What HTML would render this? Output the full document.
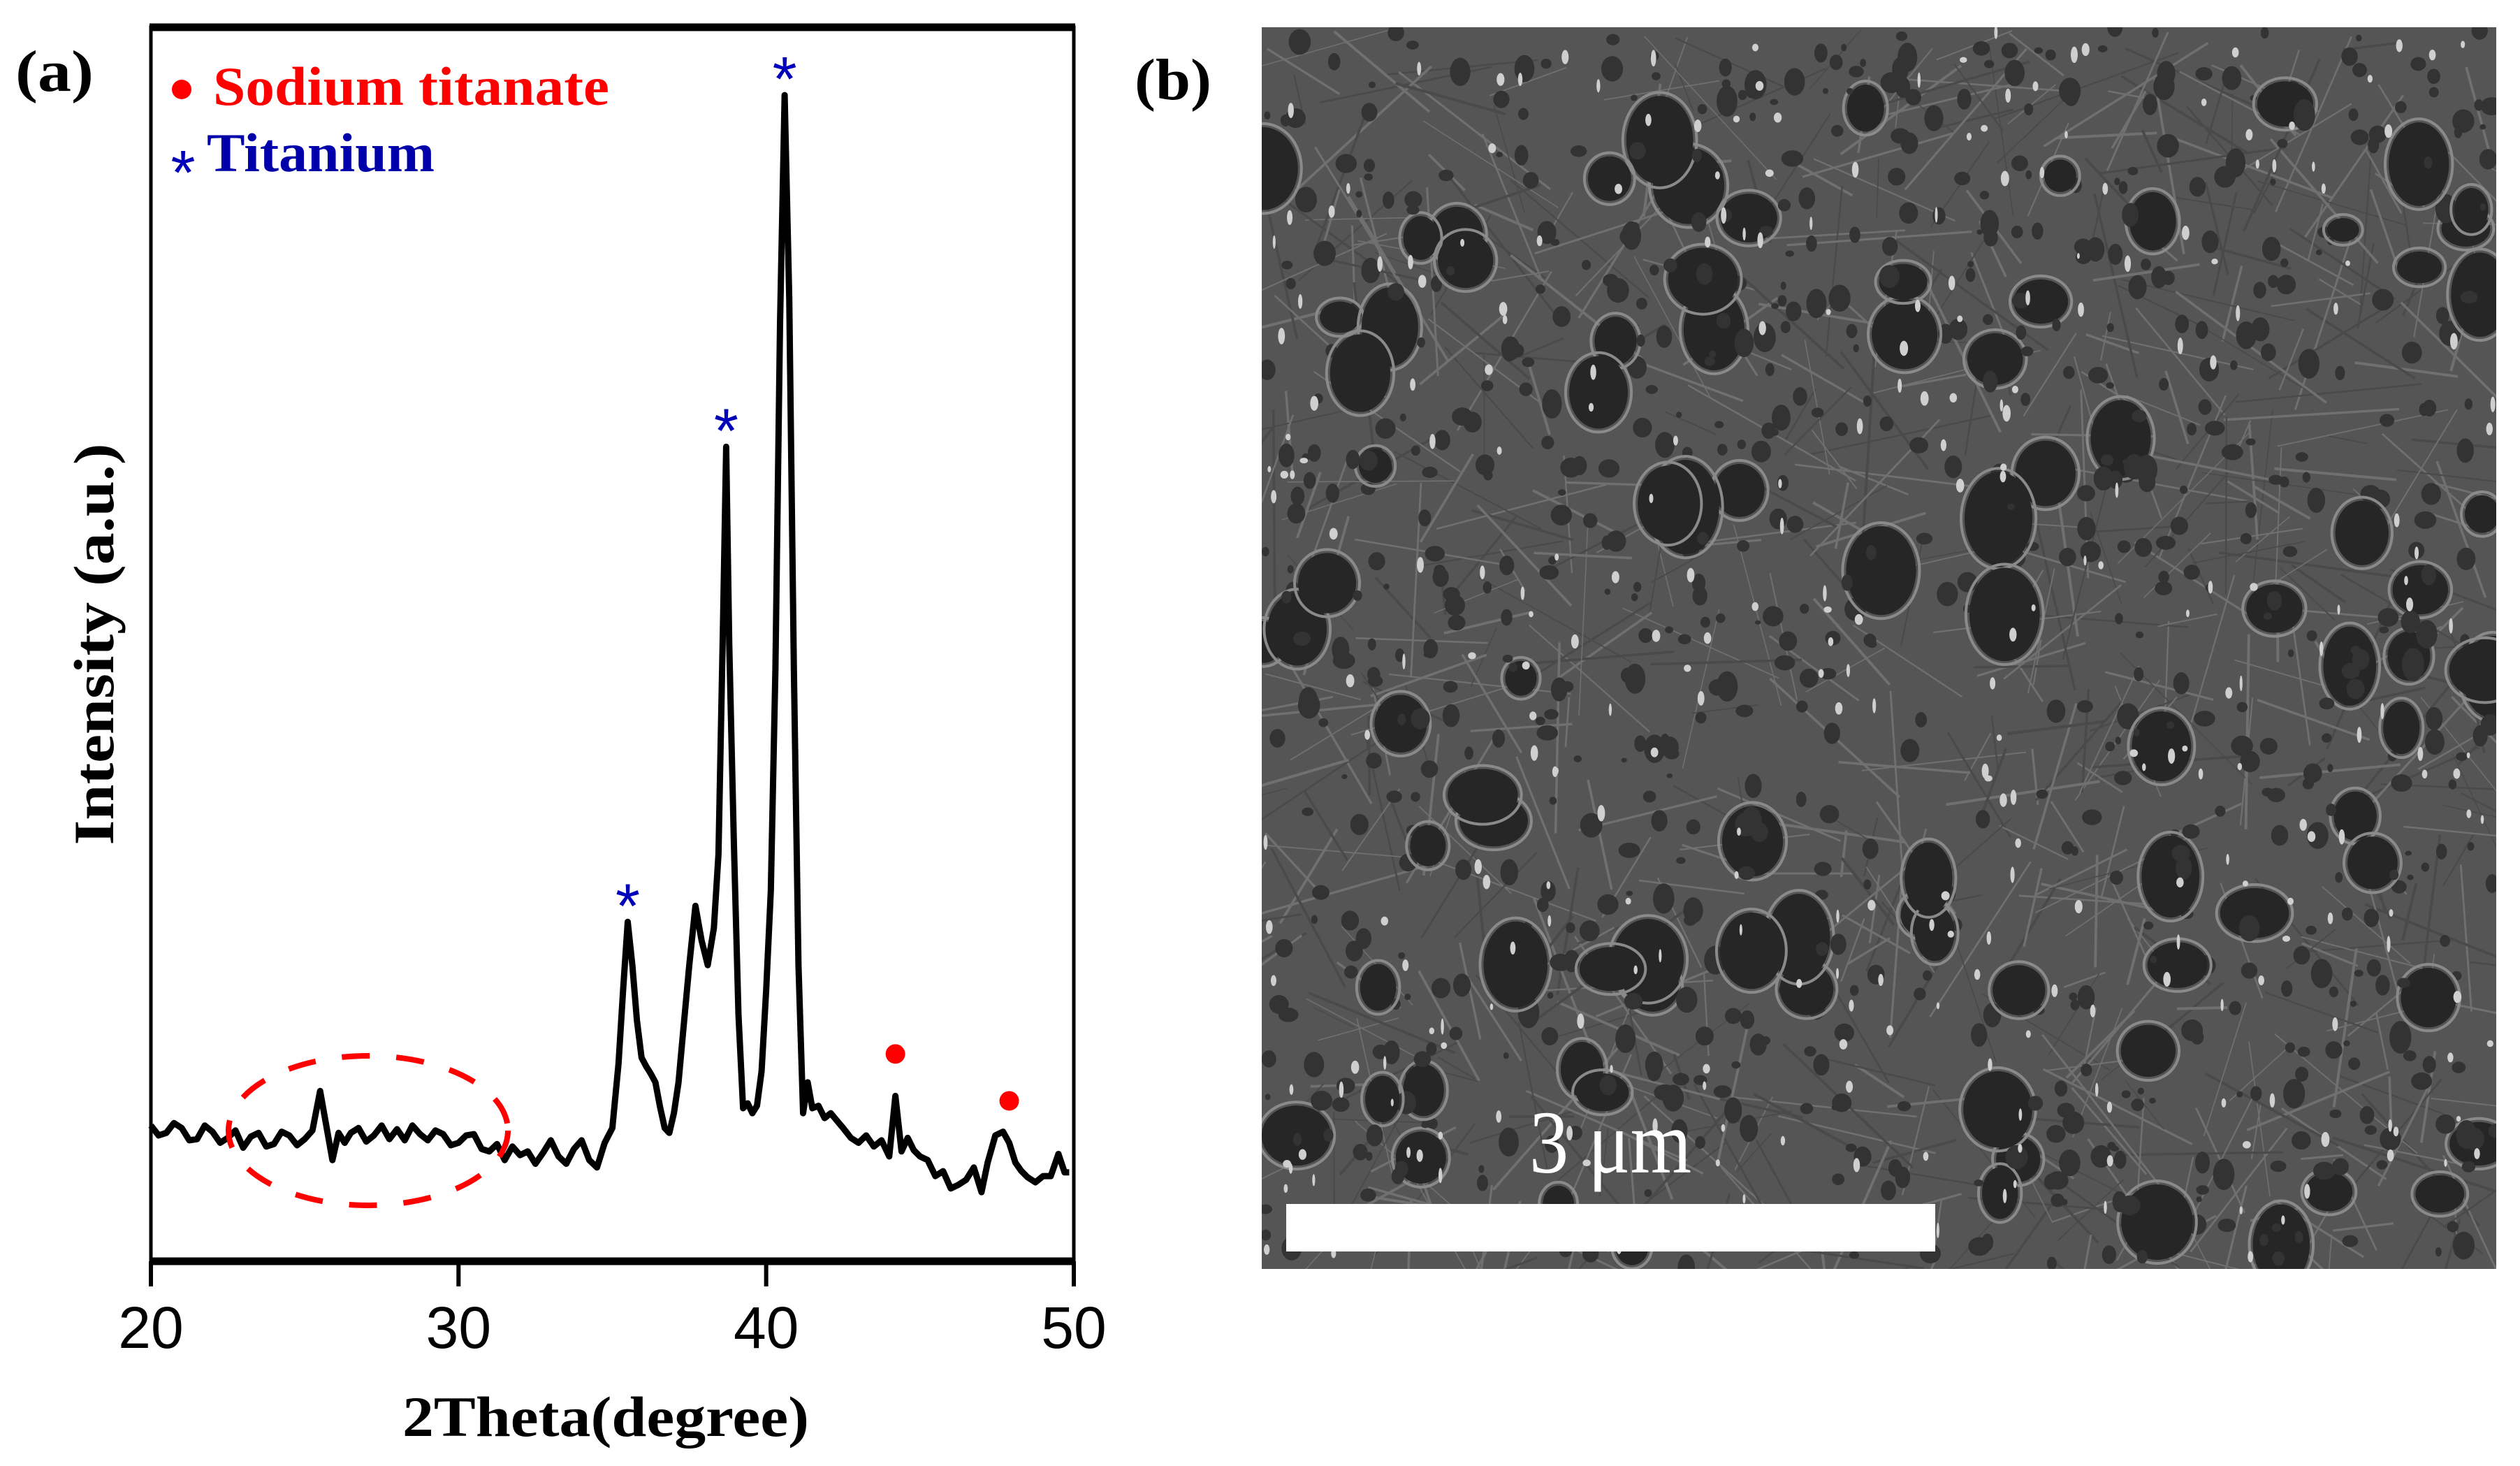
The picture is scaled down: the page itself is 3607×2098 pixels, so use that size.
<!DOCTYPE html>
<html><head><meta charset="utf-8"><style>
html,body{margin:0;padding:0;background:#fff;}
svg{display:block;}
</style></head><body>
<svg id="fig" width="3607" height="2098" viewBox="0 0 3607 2098" xmlns="http://www.w3.org/2000/svg">
<defs><clipPath id="semclip"><rect x="1806" y="39" width="1767" height="1777"/></clipPath></defs>
<rect x="0" y="0" width="3607" height="2098" fill="#fff"/>
<g id="panelA"></g>
<g id="panelB"></g>
</svg>
<script>
// ---- XRD data (2theta, intensity in arbitrary 0-100 units) ----
const twoTheta = [20,20.25,20.5,20.75,21,21.25,21.5,21.75,22,22.25,22.5,22.75,23,23.25,23.5,23.75,24,24.25,24.5,24.75,25,25.25,25.5,25.7,25.9,26.1,26.3,26.5,26.75,27,27.25,27.5,27.75,28,28.25,28.5,28.75,29,29.25,29.5,29.75,30,30.25,30.5,30.75,31,31.25,31.5,31.75,32,32.25,32.5,32.75,33,33.25,33.5,33.75,34,34.25,34.5,34.75,35,35.2,35.35,35.5,35.65,35.8,35.95,36.1,36.25,36.4,36.55,36.7,36.85,37,37.15,37.3,37.5,37.7,37.9,38.1,38.3,38.45,38.6,38.7,38.8,38.95,39.1,39.25,39.4,39.55,39.7,39.85,40,40.15,40.3,40.45,40.6,40.75,40.9,41.05,41.2,41.35,41.5,41.7,41.9,42.1,42.3,42.5,42.75,43,43.25,43.5,43.75,44,44.2,44.4,44.6,44.8,45,45.25,45.5,45.75,46,46.25,46.5,46.75,47,47.2,47.45,47.7,47.9,48.1,48.3,48.5,48.75,49,49.25,49.5,49.7,49.85,50];
const intensity = [11,10.2,10.4,11.2,10.8,9.8,9.9,11,10.5,9.6,10,10.6,9.2,10.1,10.4,9.3,9.5,10.5,10.2,9.4,9.9,10.6,13.8,11,8.2,10.4,9.6,10.4,10.8,9.7,10.2,11,9.9,10.7,9.8,11,10.3,9.8,10.6,10.3,9.4,9.6,10.2,10.3,9.1,8.9,9.5,8.2,9.3,8.6,8.9,7.9,8.8,9.8,8.5,7.9,9.1,9.8,8.2,7.6,9.6,10.8,16,22,27.5,24,19.5,16.5,15.8,15.2,14.5,12.5,10.8,10.4,12,14.5,18.6,24,28.8,26,24,27,33,52,66,50,34,20,12.4,12.8,12,12.6,15.4,22,30,48,76,94.5,78,48,24,12,14.5,12.4,12.6,11.6,12,11.4,10.8,10,9.6,10.2,9.3,9.8,8.5,13.4,8.9,10,9,8.5,8.2,6.9,7.3,5.9,6.2,6.6,7.6,5.6,8,10.2,10.5,9.6,8,7.3,6.8,6.4,6.9,6.9,8.7,7.2,7.2];
const xTicks = [20,30,40,50];
const titaniumPeaks = [35.5,38.7,40.6];
const sodiumPeaks = [44.2,47.9];

const NS = 'http://www.w3.org/2000/svg';
const PL = 216, PR = 1537, PT = 39, PB = 1805;
const xMin = 20, xMax = 50, yMin = 0, yMax = 100;
function xs(v){ return PL + (v - xMin) / (xMax - xMin) * (PR - PL); }
function ys(v){ return PB - (v - yMin) / (yMax - yMin) * (PB - PT); }
function mk(tag, attrs, parent){ const e = document.createElementNS(NS, tag); for (const k in attrs) e.setAttribute(k, attrs[k]); parent.appendChild(e); return e; }
function peakVal(x){ let best = 0, bd = 1e9; for (let i = 0; i < twoTheta.length; i++){ const d = Math.abs(twoTheta[i]-x); if (d < bd){ bd = d; best = intensity[i]; } } return best; }

const A = document.getElementById('panelA');
let d = '';
for (let i = 0; i < twoTheta.length; i++) d += (i ? 'L' : 'M') + xs(twoTheta[i]).toFixed(1) + ' ' + ys(intensity[i]).toFixed(1);
const curve = mk('path', {d: d, fill: 'none', stroke: '#000', 'stroke-width': 9, 'stroke-linejoin': 'round'}, A);



const fr = mk('rect', {x: PL, y: PT, width: PR-PL, height: PB-PT, fill: 'none', stroke: '#000', 'stroke-width': 5}, A);


const tl = mk('line', {x1: PL-2, x2: PR+2, y1: PT, y2: PT, stroke: '#000', 'stroke-width': 11}, A);


const bl = mk('line', {x1: PL-2, x2: PR+2, y1: PB, y2: PB, stroke: '#000', 'stroke-width': 11}, A);



xTicks.forEach(t => {
  const tk = mk('line', {x1: xs(t), x2: xs(t), y1: PB, y2: PB+36, stroke: '#000', 'stroke-width': 6}, A);
  
  
  const lb = mk('text', {x: xs(t), y: 1929, 'text-anchor': 'middle', 'font-family': 'Liberation Sans, sans-serif', 'font-size': 84, fill: '#000'}, A);
  lb.textContent = t;
  
  
});

const xt = mk('text', {x: 867, y: 2055, 'text-anchor': 'middle', 'font-family': 'Liberation Serif, serif', 'font-weight': 'bold', 'font-size': 82, textLength: 582, lengthAdjust: 'spacingAndGlyphs'}, A);
xt.textContent = '2Theta(degree)';


const yt = mk('text', {x: 0, y: 0, 'text-anchor': 'middle', 'font-family': 'Liberation Serif, serif', 'font-weight': 'bold', 'font-size': 82, textLength: 575, lengthAdjust: 'spacingAndGlyphs', transform: 'translate(162,922) rotate(-90)'}, A);
yt.textContent = 'Intensity (a.u.)';



const el = mk('ellipse', {cx: 527, cy: 1618, rx: 200, ry: 107, fill: 'none', stroke: '#ff0000', 'stroke-width': 8, 'stroke-dasharray': '40 38'}, A);



titaniumPeaks.forEach(p => {
  const s = mk('text', {x: xs(p), y: ys(peakVal(p)) + 8, 'text-anchor': 'middle', 'font-family': 'Liberation Sans, sans-serif', 'font-size': 90, fill: '#0000bb'}, A);
  s.textContent = '*';
  
  
});
sodiumPeaks.forEach(p => {
  const c = mk('circle', {cx: xs(p), cy: ys(peakVal(p)) - 60, r: 14, fill: '#ff0000'}, A);
  
  
});

const ld = mk('circle', {cx: 260, cy: 128, r: 14, fill: '#ff0000'}, A);


const lt1 = mk('text', {x: 305, y: 150, 'font-family': 'Liberation Serif, serif', 'font-weight': 'bold', 'font-size': 78, fill: '#ff0000', textLength: 567, lengthAdjust: 'spacingAndGlyphs'}, A);
lt1.textContent = 'Sodium titanate';


const la = mk('text', {x: 262, y: 278, 'text-anchor': 'middle', 'font-family': 'Liberation Sans, sans-serif', 'font-size': 90, fill: '#0000bb'}, A);
la.textContent = '*';


const lt2 = mk('text', {x: 296, y: 245, 'font-family': 'Liberation Serif, serif', 'font-weight': 'bold', 'font-size': 78, fill: '#0000aa', textLength: 326, lengthAdjust: 'spacingAndGlyphs'}, A);
lt2.textContent = 'Titanium';



const pa = mk('text', {x: 22, y: 130, 'font-family': 'Liberation Serif, serif', 'font-weight': 'bold', 'font-size': 84, textLength: 112, lengthAdjust: 'spacingAndGlyphs'}, A);
pa.textContent = '(a)';



// ---- SEM panel (decorative texture) ----
const B = document.getElementById('panelB');
const SX = 1806, SY = 39, SW = 1767, SH = 1777;
const bgc = mk('rect', {x: SX, y: SY, width: SW, height: SH, fill: '#555'}, B);


let seed = 12345;
function rnd(){ seed = (seed * 1103515245 + 12345) % 2147483648; return seed / 2147483648; }
const tex = mk('g', {'clip-path': 'url(#semclip)'}, B);


for (let i = 0; i < 700; i++){
  const x1 = SX + rnd()*SW, y1 = SY + rnd()*SH, a = rnd()*Math.PI, L = 60 + rnd()*220;
  mk('line', {x1: x1, y1: y1, x2: x1 + Math.cos(a)*L, y2: y1 + Math.sin(a)*L, stroke: rnd() < 0.6 ? '#707070' : '#4a4a4a', 'stroke-width': 1.5 + rnd()*2.5}, tex);
}
for (let i = 0; i < 900; i++){
  const big = rnd() < 0.1;
  const rx = big ? 22 + rnd()*30 : 4 + rnd()*12;
  const ry = rx * (0.7 + rnd()*0.8);
  const cx = SX + rnd()*SW, cy = SY + rnd()*SH;
  if (big) mk('ellipse', {cx: cx, cy: cy, rx: rx + 5, ry: ry + 5, fill: 'none', stroke: '#8a8a8a', 'stroke-width': 4}, tex);
  mk('ellipse', {cx: cx, cy: cy, rx: rx, ry: ry, fill: big ? '#262626' : '#333'}, tex);
}
for (let i = 0; i < 300; i++){
  mk('ellipse', {cx: SX + rnd()*SW, cy: SY + rnd()*SH, rx: 2 + rnd()*4, ry: 4 + rnd()*8, fill: '#cfcfcf'}, tex);
}
const sb = mk('rect', {x: 1841, y: 1723, width: 929, height: 68, fill: '#fff'}, B);


const st = mk('text', {x: 2189, y: 1678, 'font-family': 'Liberation Serif, serif', 'font-size': 128, fill: '#fff', textLength: 232, lengthAdjust: 'spacingAndGlyphs'}, B);
st.textContent = '3 μm';


const pb = mk('text', {x: 1624, y: 142, 'font-family': 'Liberation Serif, serif', 'font-weight': 'bold', 'font-size': 84, textLength: 110, lengthAdjust: 'spacingAndGlyphs'}, B);
pb.textContent = '(b)';


</script>
</body></html>
